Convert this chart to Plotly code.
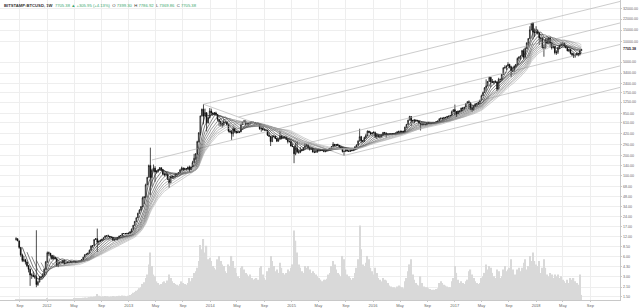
import numpy as np
import pandas as pd
import plotly.graph_objects as go

# ---------------- weekly BITSTAMP:BTCUSD data (Mondays, from 2011-08-15) ----------------
FIRST_OPEN = 10.9
START_WEEK = "2011-08-15"

CLOSE = [
    # 2011
    11.2, 10.4, 8.3,
    6.4, 5.3, 5.4, 5.0,
    4.4, 3.9, 3.2, 3.2, 3.0,
    3.0, 2.3, 2.5, 2.9,
    3.0, 3.2, 3.9, 5.0,
    # 2012
    6.9, 6.8, 6.3, 5.6, 5.9,
    5.6, 4.4, 4.8, 4.9,
    4.9, 5.3, 4.7, 4.9,
    4.9, 4.9, 5.1, 5.1, 5.1,
    4.95, 5.05, 5.15, 5.2,
    5.45, 5.9, 6.4, 6.6,
    6.8, 7.5, 8.7, 8.8, 10.9,
    11.2, 10.0, 10.1, 10.6,
    11.0, 11.6, 12.3, 12.4,
    12.2, 11.8, 11.7, 10.7, 10.8,
    10.9, 11.7, 12.3, 12.5,
    13.4, 13.4, 13.4, 13.5, 13.6,
    # 2013
    14.2, 15.5, 17.8, 20.4,
    23.0, 26.9, 30.0, 34.0,
    46.0, 47.0, 72.0, 93.0,
    140, 93, 119, 128, 112,
    116, 121, 130, 122,
    104, 102, 105, 88,
    77, 96, 94, 95, 105,
    104, 110, 120, 128,
    122, 126, 124, 133, 122,
    134, 155, 180, 210,
    320, 435, 780, 980,
    770, 870, 610, 730, 920,
    # 2014
    860, 830, 860, 815,
    690, 640, 600, 565,
    630, 630, 570, 460, 450,
    420, 500, 460, 435,
    440, 447, 575, 630,
    655, 590, 600, 600, 635,
    628, 622, 595, 588,
    590, 500, 510, 480,
    478, 475, 400, 385, 320,
    380, 385, 355, 325,
    345, 390, 365, 375,
    375, 345, 320, 318, 275,
    # 2015
    270, 210, 255, 225,
    222, 235, 240, 260,
    275, 284, 260, 245, 255,
    223, 222, 226, 240,
    241, 237, 237, 230,
    230, 235, 245, 255, 270,
    292, 280, 290, 282,
    265, 260, 228, 229, 240,
    231, 230, 233, 238,
    245, 268, 285, 325,
    380, 330, 324, 370, 395,
    460, 440, 420, 432,
    # 2016
    436, 380, 400, 378,
    375, 405, 440, 430, 411,
    413, 412, 417, 420,
    424, 431, 450, 450,
    460, 456, 442, 528, 580,
    670, 760, 660, 660,
    650, 665, 655, 605,
    590, 570, 583, 570, 606,
    608, 608, 600, 612,
    616, 640, 653, 700, 710,
    705, 735, 735, 765,
    772, 792, 895, 965,
    # 2017
    905, 830, 920, 920, 1020,
    1000, 1055, 1180, 1270,
    1230, 1020, 965, 1080,
    1180, 1180, 1250, 1345,
    1560, 1740, 2050, 2190, 2550,
    2950, 2520, 2480, 2500,
    2520, 1960, 2750, 2750, 3250,
    4100, 4150, 4350, 4600,
    4200, 3700, 3630, 4370,
    4600, 5650, 6000, 6150, 7400,
    5900, 8000, 9700, 11200,
    15200, 19000, 14000, 13800,
    # 2018
    14200, 13600, 11500, 11200, 8200,
    8100, 10600, 9600, 11500,
    9500, 8200, 8500, 6900,
    7000, 8300, 8900, 9400, 9650,
    8700, 8200, 7350, 7700,
    6780, 6450, 6150, 6350,
    6750, 6355, 7399.43, 7705.38,
]

HIGH = [
    # 2011
    11.8, 11.3, 10.4,
    8.4, 6.7, 6.2, 5.6,
    5.1, 4.5, 4.0, 3.4, 3.6,
    3.2, 15.0, 2.6, 3.1,
    3.1, 3.4, 4.0, 5.2,
    # 2012
    7.2, 7.2, 6.8, 6.4, 6.2,
    6.0, 5.6, 5.1, 5.0,
    5.0, 5.4, 5.4, 4.9,
    5.0, 5.0, 5.2, 5.2, 5.2,
    5.1, 5.1, 5.2, 5.3,
    5.5, 6.0, 6.6, 6.7,
    6.9, 7.7, 8.9, 9.0, 10.9,
    11.4, 15.9, 10.6, 10.9,
    11.1, 11.7, 12.6, 12.5,
    12.9, 12.3, 12.0, 11.8, 11.0,
    11.0, 11.8, 12.4, 12.6,
    13.5, 13.6, 13.5, 13.6, 13.7,
    # 2013
    14.5, 16.0, 18.0, 20.5,
    23.5, 27.5, 31.0, 34.5,
    48.0, 49.0, 75.0, 95.0,
    145, 260, 125, 145, 137,
    118, 124, 133, 131,
    124, 111, 111, 105,
    92, 99, 99, 97, 107,
    107, 112, 124, 135,
    132, 130, 128, 135, 140,
    135, 165, 210, 215,
    330, 440, 780, 1000,
    1163, 1000, 880, 760, 1020,
    # 2014
    1000, 880, 890, 900,
    830, 700, 660, 620,
    700, 640, 635, 590, 490,
    480, 540, 505, 465,
    455, 450, 580, 630,
    670, 660, 610, 610, 645,
    640, 630, 625, 600,
    595, 595, 525, 520,
    495, 485, 480, 440, 390,
    400, 400, 390, 365,
    350, 460, 400, 390,
    385, 380, 350, 335, 330,
    # 2015
    300, 275, 310, 320,
    245, 265, 250, 262,
    300, 298, 290, 270, 260,
    260, 240, 237, 245,
    246, 245, 243, 240,
    232, 238, 252, 253, 275,
    315, 295, 295, 298,
    285, 270, 262, 235, 240,
    245, 235, 238, 240,
    248, 272, 290, 335,
    500, 390, 335, 380, 420,
    470, 465, 455, 440,
    # 2016
    460, 452, 420, 400,
    395, 405, 445, 445, 440,
    420, 418, 420, 423,
    425, 432, 452, 468,
    462, 462, 458, 535, 590,
    680, 780, 770, 680,
    700, 680, 680, 660,
    610, 600, 590, 590, 612,
    630, 612, 610, 615,
    620, 645, 655, 720, 745,
    740, 752, 755, 775,
    780, 795, 935, 975,
    # 2017
    1150, 910, 935, 925, 1030,
    1060, 1060, 1200, 1285,
    1330, 1260, 1080, 1100,
    1200, 1220, 1265, 1350,
    1620, 1800, 2100, 2750, 2600,
    2990, 2950, 2780, 2600,
    2650, 2550, 2900, 2800, 3300,
    4150, 4480, 4450, 4980,
    4700, 4400, 4100, 4400,
    4620, 5850, 6000, 6200, 7600,
    7890, 8300, 9800, 11400,
    17200, 19000, 19666, 15900,
    # 2018
    17200, 15400, 13900, 12000, 11500,
    9000, 11300, 11800, 11700,
    11700, 10000, 9200, 8650,
    7500, 8400, 9000, 9750, 9950,
    9650, 8900, 8450, 7750,
    7780, 6900, 6850, 6500,
    6900, 6780, 7600, 7786.92,
]

LOW = [
    # 2011
    10.5, 10.3, 7.9,
    6.0, 5.0, 5.0, 4.6,
    4.2, 3.5, 2.2, 2.8, 3.0,
    2.8, 2.1, 2.2, 2.5,
    2.8, 3.0, 3.2, 3.9,
    # 2012
    4.9, 6.2, 5.9, 5.4, 5.5,
    5.5, 4.3, 4.2, 4.7,
    4.8, 4.8, 4.6, 4.7,
    4.8, 4.8, 4.9, 5.0, 5.0,
    4.9, 4.9, 5.0, 5.1,
    5.2, 5.4, 5.9, 6.3,
    6.4, 6.8, 7.5, 8.2, 8.8,
    10.7, 7.1, 9.0, 10.0,
    10.4, 10.9, 11.6, 12.0,
    12.0, 11.7, 11.6, 10.3, 10.5,
    10.7, 10.8, 11.6, 12.1,
    12.5, 13.2, 13.2, 13.3, 13.2,
    # 2013
    13.5, 14.0, 15.5, 17.5,
    19.8, 23.0, 26.8, 29.5,
    33.0, 37.0, 46.0, 71.0,
    93, 50, 68, 115, 80,
    107, 110, 120, 116,
    100, 96, 98, 85,
    65, 76, 88, 89, 94,
    101, 104, 110, 117,
    115, 120, 122, 123, 110,
    120, 134, 155, 170,
    205, 310, 400, 760,
    580, 770, 455, 600, 720,
    # 2014
    800, 810, 800, 790,
    650, 550, 540, 520,
    560, 600, 560, 440, 430,
    340, 380, 430, 420,
    430, 430, 445, 570,
    620, 560, 560, 560, 590,
    610, 610, 585, 575,
    575, 480, 450, 470,
    470, 470, 390, 380, 275,
    315, 370, 350, 315,
    320, 345, 345, 360,
    360, 340, 300, 315, 270,
    # 2015
    265, 152, 200, 215,
    210, 215, 230, 235,
    255, 270, 255, 235, 240,
    220, 215, 218, 218,
    228, 234, 233, 222,
    221, 227, 234, 240, 250,
    265, 270, 270, 280,
    260, 255, 220, 198, 225,
    228, 225, 225, 232,
    236, 244, 265, 283,
    325, 300, 310, 315, 355,
    390, 430, 410, 405,
    # 2016
    425, 365, 350, 370,
    365, 372, 400, 415, 370,
    404, 405, 405, 411,
    415, 420, 427, 440,
    440, 445, 436, 440, 515,
    570, 670, 550, 610,
    600, 650, 640, 595,
    470, 565, 565, 565, 568,
    600, 600, 590, 598,
    605, 615, 625, 650, 680,
    690, 700, 725, 730,
    755, 770, 790, 880,
    # 2017
    800, 750, 830, 880, 915,
    940, 995, 1055, 1170,
    980, 950, 890, 930,
    1080, 1150, 1160, 1240,
    1340, 1550, 1750, 1850, 2150,
    2550, 2100, 2450, 2300,
    2450, 1830, 1950, 2450, 2700,
    3250, 3950, 3800, 4320,
    4000, 2970, 3530, 3630,
    4150, 4600, 5100, 5400, 6100,
    5500, 5850, 7900, 8900,
    11200, 14900, 10900, 11900,
    # 2018
    13200, 12900, 9000, 10000, 7950,
    6000, 8000, 9300, 9500,
    8300, 7700, 8000, 6500,
    6400, 6600, 7800, 8600, 8900,
    8350, 8000, 7250, 7050,
    6500, 6120, 5750, 5800,
    6300, 6080, 6330, 7369.86,
]

VOLUME = [  # thousand BTC per week
    # 2011
    4, 5, 7,
    8, 9, 7, 6,
    6, 8, 10, 7, 6,
    5, 9, 7, 6,
    5, 6, 8, 10,
    # 2012
    12, 10, 9, 8, 8,
    7, 10, 9, 7,
    7, 8, 9, 8,
    8, 9, 10, 11, 12,
    15, 18, 20, 22,
    24, 26, 30, 28,
    30, 34, 38, 36, 42,
    45, 70, 50, 44,
    40, 42, 46, 44,
    40, 38, 40, 48, 44,
    42, 46, 50, 48,
    52, 50, 48, 45, 50,
    # 2013
    60, 70, 85, 95,
    110, 120, 140, 150,
    190, 210, 260, 300,
    420, 560, 400, 300, 280,
    220, 200, 180, 190,
    210, 220, 200, 230,
    300, 260, 220, 200, 190,
    180, 170, 190, 220,
    200, 190, 180, 200, 260,
    220, 260, 320, 340,
    380, 460, 650, 600,
    720, 560, 640, 480, 500,
    # 2014
    460, 400, 380, 360,
    480, 520, 460, 420,
    400, 340, 320, 420, 400,
    520, 460, 380, 320,
    280, 260, 380, 400,
    360, 320, 300, 280, 300,
    260, 240, 250, 260,
    240, 380, 400, 300,
    260, 240, 340, 380, 520,
    460, 400, 340, 360,
    320, 440, 380, 320,
    300, 320, 360, 340, 380,
    # 2015
    420, 820, 700, 560,
    420, 380, 340, 320,
    400, 380, 400, 360, 320,
    340, 320, 300, 280,
    260, 240, 220, 240,
    240, 250, 300, 320, 400,
    460, 420, 360, 320,
    300, 280, 520, 480, 360,
    300, 280, 260, 240,
    260, 320, 380, 480,
    880, 600, 420, 400, 440,
    520, 480, 380, 340,
    # 2016
    300, 380, 320, 260,
    240, 220, 260, 240, 230,
    200, 170, 160, 150,
    150, 140, 160, 170,
    160, 150, 140, 220, 260,
    340, 420, 480, 300,
    240, 200, 180, 170,
    280, 200, 160, 150, 150,
    140, 130, 120, 120,
    120, 130, 140, 200, 220,
    200, 180, 170, 160,
    150, 150, 220, 260,
    # 2017
    400, 320, 240, 200, 220,
    200, 190, 220, 240,
    340, 360, 300, 260,
    220, 200, 190, 200,
    260, 280, 320, 420, 360,
    400, 380, 320, 280,
    260, 360, 340, 260, 280,
    360, 400, 340, 360,
    380, 480, 360, 300,
    300, 360, 380, 340, 380,
    440, 480, 360, 400,
    520, 460, 560, 460,
    # 2018
    420, 400, 460, 320, 380,
    480, 380, 300, 280,
    320, 300, 260, 300,
    280, 300, 260, 280, 240,
    220, 200, 240, 200,
    260, 240, 260, 220,
    200, 180, 300, 60,
]

MA_PERIODS = [5, 8, 11, 14, 17, 20, 23, 26, 29, 32]

# Pitchfork anchor points (date, price) and its levels
PF_A = ("2013-04-15", 170.0)
PF_B = ("2013-12-02", 1163.0)
PF_C = ("2015-08-24", 198.0)
PF_LEVELS = [-1.0, -0.5, 0.0, 0.5, 1.0]
PF_END = "2019-06-01"

PRICE_TICKS = [1.5, 2.1, 3.0, 4.3, 6.0, 8.5, 12, 17, 24, 34, 48, 68, 100, 140, 200, 290,
               420, 610, 850, 1250, 1750, 2400, 3400, 5000, 10000, 15000, 22000, 32000]
DATE_TICKS = ["2011-09-01", "2012-01-01", "2012-05-01", "2012-09-01", "2013-01-01", "2013-05-01",
              "2013-09-01", "2014-01-01", "2014-05-01", "2014-09-01", "2015-01-01", "2015-05-01",
              "2015-09-01", "2016-01-01", "2016-05-01", "2016-09-01", "2017-01-01", "2017-05-01",
              "2017-09-01", "2018-01-01", "2018-05-01", "2018-09-01"]
DATE_LABELS = ["Sep", "2012", "May", "Sep", "2013", "May", "Sep", "2014", "May", "Sep", "2015",
               "May", "Sep", "2016", "May", "Sep", "2017", "May", "Sep", "2018", "May", "Sep"]

LAST_PRICE = 7705.38
TITLE = ("<b>BITSTAMP:BTCUSD, 1W</b>  <span style='color:#3aa76d'>7705.38 ▲ +305.95 (+4.13%)</span>"
         "  O <span style='color:#3aa76d'>7399.30</span>  H <span style='color:#3aa76d'>7786.92</span>"
         "  L <span style='color:#3aa76d'>7369.86</span>  C <span style='color:#3aa76d'>7705.38</span>")

# ---------------- build ----------------
dates = pd.date_range(START_WEEK, periods=len(CLOSE), freq="7D")
OPEN = [FIRST_OPEN] + CLOSE[:-1]
close_s = pd.Series(CLOSE, index=dates)

fig = go.Figure()

fig.add_trace(go.Bar(x=dates, y=VOLUME, yaxis="y2", marker_color="#d9d9d9",
                     marker_line_width=0, width=7 * 86400000 * 0.8, showlegend=False))

# pitchfork (computed in time / log-price space)
def tnum(d):
    return pd.Timestamp(d).value / 1e9

def pt(p):
    return np.array([tnum(p[0]), np.log10(p[1])])

A, B, C = pt(PF_A), pt(PF_B), pt(PF_C)
M = (B + C) / 2
d = M - A
t_end = tnum(PF_END)
pf_color = "#a9a9a9"

def add_seg(p0, p1, color=pf_color, width=0.6):
    fig.add_trace(go.Scatter(x=pd.to_datetime([p0[0], p1[0]], unit="s"),
                             y=[10 ** p0[1], 10 ** p1[1]], mode="lines",
                             line=dict(color=color, width=width), showlegend=False,
                             hoverinfo="skip"))

add_seg(B, C)
for k in PF_LEVELS:
    s = M + k * (C - M)
    if k == 0:
        s = A
    u = (t_end - s[0]) / d[0]
    add_seg(s, s + u * d)

# moving average ribbon
n = len(MA_PERIODS)
for i, p in enumerate(MA_PERIODS):
    g = int(20 + (175 - 20) * i / (n - 1))
    ma = close_s.rolling(p).mean()
    fig.add_trace(go.Scatter(x=dates, y=ma.values, mode="lines",
                             line=dict(color=f"rgb({g},{g},{g})", width=0.6),
                             showlegend=False, hoverinfo="skip"))

fig.add_trace(go.Candlestick(
    x=dates, open=OPEN, high=HIGH, low=LOW, close=CLOSE,
    increasing=dict(line=dict(color="#000000", width=0.7), fillcolor="#ffffff"),
    decreasing=dict(line=dict(color="#000000", width=0.7), fillcolor="#000000"),
    whiskerwidth=0, showlegend=False))

fontfam = "Liberation Sans, Arial, sans-serif"
fig.update_layout(
    width=640, height=308,
    margin=dict(l=0, r=20, t=0, b=8),
    paper_bgcolor="#ffffff", plot_bgcolor="#ffffff",
    font=dict(family=fontfam, size=4, color="#555555"),
    showlegend=False,
    xaxis=dict(type="date", range=["2011-06-04", "2019-01-12"],
               tickvals=DATE_TICKS, ticktext=DATE_LABELS,
               tickfont=dict(size=4, color="#666666"),
               showgrid=True, gridcolor="#eeeeee", gridwidth=0.6,
               showline=True, linecolor="#c8c8c8", linewidth=0.8,
               ticks="outside", ticklen=1.5, tickcolor="#c8c8c8",
               rangeslider=dict(visible=False), zeroline=False),
    yaxis=dict(type="log", range=[np.log10(1.35), np.log10(42540)], side="right",
               tickvals=PRICE_TICKS, ticktext=[f"{v:.2f}" for v in PRICE_TICKS],
               tickfont=dict(size=3.6, color="#666666"),
               showgrid=True, gridcolor="#eeeeee", gridwidth=0.6,
               showline=True, linecolor="#c8c8c8", linewidth=0.8,
               ticks="outside", ticklen=1.5, tickcolor="#c8c8c8", zeroline=False),
    yaxis2=dict(overlaying="y", range=[0, 3540], visible=False, fixedrange=True),
    annotations=[
        dict(xref="paper", yref="paper", x=0.003, y=0.997, xanchor="left", yanchor="top",
             text=TITLE, showarrow=False, font=dict(size=4.2, color="#333333")),
        dict(xref="paper", yref="y", x=1.0, y=np.log10(LAST_PRICE), xanchor="left",
             yanchor="middle", text=f"<b>{LAST_PRICE:.2f}</b>", showarrow=False,
             font=dict(size=3.6, color="#222222"), bgcolor="#ffffff", xshift=1),
    ],
)

fig.write_html("out.html")
